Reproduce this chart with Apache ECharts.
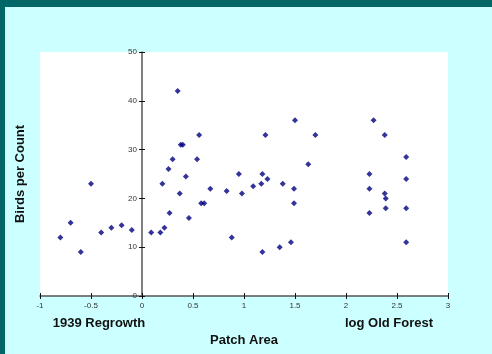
<!DOCTYPE html>
<html>
<head>
<meta charset="utf-8">
<script src="https://cdn.jsdelivr.net/npm/echarts@6/dist/echarts.min.js"></script>
<style>
  html, body { margin: 0; padding: 0; background: #ccffff; }
  #chart { width: 492px; height: 354px; }
</style>
</head>
<body>
<div id="chart"></div>
<script>
// log patch area (x) vs birds per count (y)
const patchArea = [
  -0.8, -0.7, -0.6, -0.5, -0.4, -0.3, -0.2, -0.1,
  0.09, 0.18, 0.22, 0.27, 0.2, 0.26, 0.3, 0.35, 0.38, 0.4, 0.37, 0.43, 0.46,
  0.54, 0.56, 0.58, 0.61, 0.67, 0.83, 0.88, 0.95, 0.98,
  1.09, 1.17, 1.18, 1.21, 1.23, 1.18, 1.35, 1.38, 1.46, 1.49, 1.49, 1.5, 1.63, 1.7,
  2.23, 2.23, 2.23, 2.27, 2.38, 2.38, 2.39, 2.39, 2.59, 2.59, 2.59, 2.59
];
const birdsPerCount = [
  12, 15, 9, 23, 13, 14, 14.5, 13.5,
  13, 13, 14, 17, 23, 26, 28, 42, 31, 31, 21, 24.5, 16,
  28, 33, 19, 19, 22, 21.5, 12, 25, 21,
  22.5, 23, 25, 33, 24, 9, 10, 23, 11, 22, 19, 36, 27, 33,
  25, 22, 17, 36, 33, 21, 20, 18, 28.5, 24, 18, 11
];
const xTicks = { min: -1, max: 3, interval: 0.5 };
const yTicks = { min: 0, max: 50, interval: 10 };

const points = patchArea.map((x, i) => [x, birdsPerCount[i]]);

const gridLeft = 40, gridRight = 44;
const plotWidth = 492 - gridLeft - gridRight;
// the y axis sits at x = 0, so shift it in from the grid's left edge
const yAxisShift = -plotWidth * (0 - xTicks.min) / (xTicks.max - xTicks.min);

const chart = echarts.init(document.getElementById("chart"));
const tickLabel = { fontFamily: "Liberation Sans", fontSize: 8, color: "#333" };
const boldText = { fontFamily: "Liberation Sans", fontSize: 13, fontWeight: "bold", fill: "#111" };
const tickStyle = { color: "#111", width: 1 };

chart.setOption({
  animation: false,
  backgroundColor: "#ccffff",
  grid: {
    left: gridLeft, right: gridRight, top: 52, bottom: 58,
    show: true, backgroundColor: "#ffffff", borderWidth: 0
  },
  xAxis: [
    {
      type: "value",
      min: xTicks.min, max: xTicks.max, interval: xTicks.interval,
      name: "Patch Area",
      nameLocation: "middle",
      nameGap: 38,
      nameTextStyle: { fontFamily: "Liberation Sans", fontSize: 13, fontWeight: "bold", color: "#111" },
      axisLine: { onZero: false, lineStyle: { color: "#555", width: 1.5 } },
      axisTick: { length: 3, lineStyle: tickStyle },
      axisLabel: { ...tickLabel, margin: 6 },
      splitLine: { show: false }
    },
    {
      type: "value",
      position: "bottom",
      min: xTicks.min, max: xTicks.max, interval: xTicks.interval,
      axisLine: { show: false, onZero: false },
      axisTick: { inside: true, length: 3, lineStyle: tickStyle },
      axisLabel: { show: false },
      splitLine: { show: false }
    }
  ],
  yAxis: [
    {
      type: "value",
      position: "left",
      offset: yAxisShift,
      min: yTicks.min, max: yTicks.max, interval: yTicks.interval,
      axisLine: { onZero: false, lineStyle: { color: "#555", width: 1.5 } },
      axisTick: { length: 3, lineStyle: tickStyle },
      axisLabel: { ...tickLabel, margin: 5 },
      splitLine: { show: false }
    },
    {
      type: "value",
      position: "left",
      offset: yAxisShift,
      min: yTicks.min, max: yTicks.max, interval: yTicks.interval,
      axisLine: { show: false, onZero: false },
      axisTick: { inside: true, length: 3, lineStyle: tickStyle },
      axisLabel: { show: false },
      splitLine: { show: false }
    }
  ],
  graphic: [
    { type: "rect", left: 0, top: 0, shape: { width: 492, height: 7 }, style: { fill: "#006666" }, z: 100 },
    { type: "rect", left: 0, top: 0, shape: { width: 5, height: 354 }, style: { fill: "#006666" }, z: 100 },
    {
      type: "text", x: 20, y: 174, rotation: Math.PI / 2,
      style: { text: "Birds per Count", ...boldText, align: "center", verticalAlign: "middle" }
    },
    {
      type: "text", x: 99, y: 323,
      style: { text: "1939 Regrowth", ...boldText, align: "center", verticalAlign: "middle" }
    },
    {
      type: "text", x: 389, y: 323,
      style: { text: "log Old Forest", ...boldText, align: "center", verticalAlign: "middle" }
    }
  ],
  series: [
    {
      type: "scatter",
      xAxisIndex: 0,
      yAxisIndex: 0,
      symbol: "diamond",
      symbolSize: 6,
      itemStyle: { color: "#000080" },
      data: points
    }
  ]
});
</script>
</body>
</html>
